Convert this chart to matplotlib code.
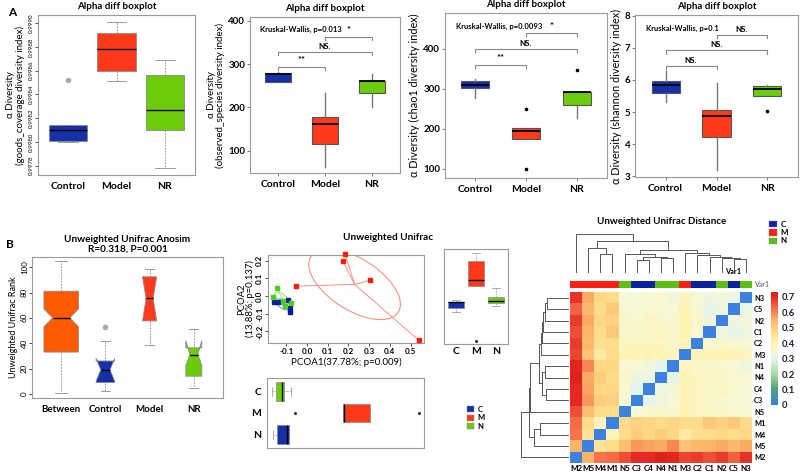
import numpy as np
import matplotlib
matplotlib.use('Agg')
import matplotlib.pyplot as plt
from matplotlib.patches import Ellipse, Rectangle
from matplotlib.colors import LinearSegmentedColormap, ListedColormap

plt.rcParams['font.family'] = ['Lato', 'DejaVu Sans']
plt.rcParams['font.weight'] = 'bold'
plt.rcParams['axes.linewidth'] = 0.8

# ---------------------------------------------------------------- data
groups = ['Control', 'Model', 'NR']

# (whislo, q1, median, q3, whishi)
goods_stats = [(0.99800, 0.99801, 0.99810, 0.99814, 0.99814),
               (0.99851, 0.99860, 0.99878, 0.99892, 0.99901),
               (0.99778, 0.99810, 0.99827, 0.99856, 0.99869)]
goods_fliers = [[0.99852], [], []]
goods_ticks = [0.9978, 0.9980, 0.9982, 0.9984, 0.9986, 0.9988, 0.9990]

observed_stats = [(258, 258, 277, 279, 282),
                  (61, 115, 162, 178, 234),
                  (200, 232, 260, 262, 277)]
observed_fliers = [[], [], []]
chao1_stats = [(277, 301, 309, 318, 325),
               (174, 174, 195, 203, 203),
               (227, 259, 291, 292, 292)]
chao1_fliers = [[], [250, 99], [346]]
shannon_stats = [(5.32, 5.60, 5.83, 5.97, 6.27),
                 (3.21, 4.23, 4.88, 5.06, 5.89),
                 (5.49, 5.49, 5.73, 5.81, 5.84)]
shannon_fliers = [[], [], [5.04]]

pairs = [(1, 2), (1, 3), (2, 3)]
observed_sig = ['**', 'NS.', '*']
chao1_sig = ['**', 'NS.', '*']
shannon_sig = ['NS.', 'NS.', 'NS.']
observed_p = 'Kruskal-Wallis, p=0.013'
chao1_p = 'Kruskal-Wallis, p=0.0093'
shannon_p = 'Kruskal-Wallis, p=0.1'

anosim_groups = ['Between', 'Control', 'Model', 'NR']
anosim_stats = [(1, 33, 60, 81, 104.5),
                (2, 9, 19, 26, 42),
                (38.7, 57.6, 75.3, 92.4, 98.4),
                (5, 14, 31, 36.3, 51.6)]
anosim_notches = [(53, 67), (10, 28), (57.6, 92.4), (22.6, 42)]
anosim_fliers = [[], [52.6], [], []]
anosim_n_width = [0.78, 0.42, 0.32, 0.36]

pc1_C = [-0.161, -0.140, -0.092, -0.085, -0.081]
pc2_C = [-0.032, -0.036, -0.023, -0.069, -0.088]
pc1_M = [0.183, 0.174, 0.306, -0.055, 0.540]
pc2_M = [0.240, 0.196, 0.090, 0.056, -0.250]
pc1_N = [-0.144, -0.165, -0.116, -0.076, -0.105]
pc2_N = [0.043, -0.004, -0.028, -0.038, -0.058]

samples = ['M2', 'M5', 'M4', 'M1', 'N5', 'C3', 'C4', 'N4', 'N1',
           'M3', 'C2', 'C1', 'N2', 'C5', 'N3']
# upper triangle of the distance matrix in the above order
dist_upper = [
    [0.55, 0.62, 0.63, 0.66, 0.70, 0.70, 0.72, 0.71, 0.67, 0.68, 0.66, 0.68, 0.64, 0.69],
    [0.45, 0.47, 0.53, 0.58, 0.57, 0.56, 0.60, 0.52, 0.54, 0.55, 0.56, 0.54, 0.56],
    [0.39, 0.47, 0.50, 0.48, 0.50, 0.48, 0.43, 0.46, 0.47, 0.48, 0.47, 0.48],
    [0.47, 0.49, 0.48, 0.47, 0.48, 0.47, 0.47, 0.51, 0.49, 0.51, 0.47],
    [0.35, 0.36, 0.37, 0.36, 0.40, 0.38, 0.37, 0.37, 0.36, 0.35],
    [0.30, 0.33, 0.35, 0.40, 0.38, 0.37, 0.36, 0.35, 0.35],
    [0.33, 0.34, 0.40, 0.38, 0.37, 0.38, 0.36, 0.35],
    [0.30, 0.40, 0.38, 0.38, 0.37, 0.36, 0.36],
    [0.38, 0.37, 0.37, 0.36, 0.35, 0.33],
    [0.40, 0.40, 0.40, 0.40, 0.38],
    [0.36, 0.37, 0.36, 0.35],
    [0.33, 0.31, 0.33],
    [0.33, 0.34],
    [0.32],
]
# dendrograms: (height, left, right)
col_tree = (112, 'M2',
            (90, (72, 'M5', (52, 'M4', 'M1')),
             (65, (52, 'N5', (45, (35, 'C3', 'C4'), (40, 'N4', 'N1'))),
              (55, 'M3', (50, 'C2', (45, 'C1', (42, 'N2', (38, 'C5', 'N3'))))))))
row_tree = (140,
            (115, (112, (85, (80, (78, (75, (70, (62, 'N3', 'C5'), 'N2'), 'C1'), 'C2'), 'M3'),
                         (78, (70, 'N1', 'N4'), (65, 'C4', 'C3'))), 'N5'),
             (100, (82, 'M1', 'M4'), 'M5')),
            'M2')
legend_groups = ['C', 'M', 'N']

# ---------------------------------------------------------------- style
BLUE, RED, GREEN, ORANGE = '#1530A8', '#FF3A1A', '#6CCC0A', '#FF5A00'
FRAME = '#9A9A9A'
W, H = 800, 472
fig = plt.figure(figsize=(8, 4.72), dpi=100)


def px_axes(l, t, r, b):
    return fig.add_axes([l / W, 1 - b / H, (r - l) / W, (b - t) / H])


def frame(ax, color=FRAME):
    for s in ax.spines.values():
        s.set_color(color)
        s.set_linewidth(0.8)


def make_stats(stats, fliers, notches=None):
    out = []
    for i, (lo, q1, med, q3, hi) in enumerate(stats):
        d = dict(whislo=lo, q1=q1, med=med, q3=q3, whishi=hi, fliers=list(fliers[i]))
        if notches is not None:
            d['cilo'], d['cihi'] = notches[i]
        out.append(d)
    return out


def base_r_box(ax, stats, fliers, colors, widths, notches=None, capwidths=None):
    bp = ax.bxp(make_stats(stats, fliers, notches), positions=range(1, len(stats) + 1),
                widths=widths, capwidths=capwidths, patch_artist=True,
                shownotches=notches is not None,
                boxprops=dict(edgecolor='#8a8a8a', linewidth=0.6),
                whiskerprops=dict(color='#8a8a8a', linestyle=(0, (2, 1.5)), linewidth=0.6),
                capprops=dict(color='#8a8a8a', linewidth=0.6),
                medianprops=dict(color='black', linewidth=1.0),
                flierprops=dict(marker='o', markersize=3, markerfacecolor='#AAAAAA',
                                markeredgecolor='#AAAAAA'))
    for p, c in zip(bp['boxes'], colors):
        p.set_facecolor(c)


def gg_box(ax, stats, fliers):
    bp = ax.bxp(make_stats(stats, fliers), positions=[1, 2, 3], widths=0.55,
                patch_artist=True, showcaps=False,
                boxprops=dict(edgecolor='#555555', linewidth=0.8),
                whiskerprops=dict(color='#777777', linewidth=1.0),
                medianprops=dict(color='black', linewidth=1.3),
                flierprops=dict(marker='o', markersize=1.6, markerfacecolor='black',
                                markeredgecolor='black'))
    for p, c in zip(bp['boxes'], [BLUE, RED, GREEN]):
        p.set_facecolor(c)


# ---------------------------------------------------------------- Panel A
ax1 = px_axes(38, 15, 195, 175)
base_r_box(ax1, goods_stats, goods_fliers, [BLUE, RED, GREEN], widths=0.8)
ax1.set_xlim(0.38, 3.62)
ax1.set_ylim(0.99772, 0.99907)
ax1.set_yticks(goods_ticks, [f'{v:.4f}' for v in goods_ticks], rotation=90,
               fontsize=4.5, va='center', fontweight='normal')
ax1.set_xticks([1, 2, 3], groups, fontsize=7.5)
ax1.tick_params(axis='y', length=2, pad=1, width=0.5)
ax1.tick_params(axis='x', length=0, pad=5)
ax1.set_title('Alpha diff boxplot', fontsize=7, fontweight='bold', pad=4)
ax1.set_ylabel('α Diversity\n(goods_coverage diversity index)', fontsize=7,
               labelpad=3, linespacing=1.0)
frame(ax1)

gg_specs = [
    ((250, 17, 400, 173), observed_stats, observed_fliers, (48, 409), [100, 200, 300, 400],
     'α Diversity\n(observed_species diversity index)', observed_p, observed_sig, 282),
    ((445, 13, 607, 178), chao1_stats, chao1_fliers, (77, 489), [100, 200, 300, 400],
     'α Diversity (chao1 diversity index)', chao1_p, chao1_sig, 346),
    ((635, 15, 798, 177), shannon_stats, shannon_fliers, (2.98, 8.02), [3, 4, 5, 6, 7, 8],
     'α Diversity (shannon diversity index)', shannon_p, shannon_sig, 6.27),
]
for box, st, fl, ylim, yt, ylab, ptxt, sig, top in gg_specs:
    ax = px_axes(*box)
    gg_box(ax, st, fl)
    ax.set_xlim(0.4, 3.6)
    ax.set_ylim(*ylim)
    ax.set_yticks(yt, [str(v) for v in yt], fontsize=7)
    ax.set_xticks([1, 2, 3], groups, fontsize=7.5)
    ax.tick_params(axis='y', length=2, pad=1.5, width=0.6, color='#666')
    ax.tick_params(axis='x', length=2, pad=3, width=0.6, color='#666')
    ax.set_title('Alpha diff boxplot', fontsize=7, fontweight='bold', pad=4)
    nlines = ylab.count('\n') + 1
    ax.set_ylabel(ylab, fontsize=7 if nlines > 1 else 7.8, labelpad=2, linespacing=1.0)
    frame(ax)
    span = ylim[1] - ylim[0]
    for k, ((a, b), lab) in enumerate(zip(pairs, sig)):
        y = top + 0.033 * span + k * 0.096 * span
        ax.plot([a, a, b, b], [y - 0.02 * span, y, y, y - 0.02 * span],
                color='#888888', lw=0.8)
        ax.text((a + b) / 2, y + 0.012 * span, lab, ha='center', va='bottom',
                fontsize=5.8 if lab == 'NS.' else 6.8)
    ax.text(0.07, 0.92, ptxt, transform=ax.transAxes, fontsize=5.5, va='center')

fig.text(8 / W, 1 - 13 / H, 'A', fontsize=8.5, fontweight='bold', va='center')
fig.text(6 / W, 1 - 245 / H, 'B', fontsize=8.5, fontweight='bold', va='center')

# ---------------------------------------------------------------- Panel B: anosim
axb = px_axes(32, 257, 223, 398)
base_r_box(axb, anosim_stats, anosim_fliers, [ORANGE, BLUE, RED, GREEN],
           widths=anosim_n_width, notches=anosim_notches,
           capwidths=[0.26, 0.2, 0.2, 0.2])
axb.set_xlim(0.34, 4.66)
axb.set_ylim(-3.2, 108)
axb.set_yticks([0, 20, 40, 60, 80, 100], ['0', '20', '40', '60', '80', '100'],
               rotation=90, va='center', fontsize=5.8, fontweight='normal')
axb.set_xticks([1, 2, 3, 4], anosim_groups, fontsize=7)
axb.tick_params(axis='y', length=2, pad=1, width=0.5)
axb.tick_params(axis='x', length=0, pad=5)
axb.set_title('Unweighted Unifrac Anosim\nR=0.318, P=0.001', fontsize=7.2,
              fontweight='bold', pad=4, linespacing=1.1)
axb.set_ylabel('Unweighted Unifrac Rank', fontsize=6.5, labelpad=2)
frame(axb)

# ---------------------------------------------------------------- PCoA
axs = px_axes(268, 255, 424, 343)
pcoa = [(pc1_C, pc2_C, '#0A1E9C', '#7F98D8'),
        (pc1_N, pc2_N, '#4CD020', '#9BE680'),
        (pc1_M, pc2_M, '#FF1A00', '#F39282')]
for xs, ys, pc, lc in pcoa:
    xs = np.asarray(xs)
    ys = np.asarray(ys)
    cx, cy = xs.mean(), ys.mean()
    cov = np.cov(xs, ys)
    vals, vecs = np.linalg.eigh(cov)
    order = vals.argsort()[::-1]
    vals, vecs = vals[order], vecs[:, order]
    ang = np.degrees(np.arctan2(vecs[1, 0], vecs[0, 0]))
    axs.add_patch(Ellipse((cx, cy), 2 * np.sqrt(vals[0]), 2.3 * np.sqrt(vals[1]),
                          angle=ang, fill=False, ec=lc, lw=0.8))
    for x, y in zip(xs, ys):
        axs.plot([cx, x], [cy, y], color=lc, lw=0.7)
    axs.plot(xs, ys, 's', ms=2.3, color=pc, clip_on=False, zorder=5)
axs.set_xlim(-0.189, 0.565)
axs.set_ylim(-0.265, 0.232)
xt = [-0.1, 0.0, 0.1, 0.2, 0.3, 0.4, 0.5]
axs.set_xticks(xt, [f'{v:.1f}' for v in xt], fontsize=5.8)
yt = [-0.2, -0.1, 0.0, 0.1, 0.2]
axs.set_yticks(yt, [f'{v:.1f}' for v in yt], fontsize=5.8, rotation=90, va='center')
axs.tick_params(length=2, pad=1.5, width=0.5)
axs.set_xlabel('PCOA1(37.78%; p=0.009)', fontsize=7, labelpad=2)
axs.set_ylabel('PCOA2\n(13.88%; p=0.137)', fontsize=6.8, labelpad=1, linespacing=0.9)
frame(axs)
fig.text(388 / W, 1 - 238 / H, 'Unweighted Unifrac', fontsize=7.2, fontweight='bold',
         ha='center', va='center')

box_kw = dict(patch_artist=True,
              boxprops=dict(edgecolor='#8a8a8a', linewidth=0.5),
              whiskerprops=dict(color='#8a8a8a', linestyle=(0, (2, 1.5)), linewidth=0.5),
              capprops=dict(color='#8a8a8a', linewidth=0.5),
              medianprops=dict(color='black', linewidth=1.0),
              flierprops=dict(marker='o', markersize=1.2, markerfacecolor='#333',
                              markeredgecolor='#333'))

axv = px_axes(444, 249, 508, 344)
bp = axv.boxplot([pc2_C, pc2_M, pc2_N], positions=[1, 2, 3], widths=0.8, **box_kw)
for p, c in zip(bp['boxes'], [BLUE, RED, GREEN]):
    p.set_facecolor(c)
axv.set_xlim(0.38, 3.62)
axv.set_ylim(-0.268, 0.261)
axv.set_yticks([])
axv.set_xticks([1, 2, 3], ['C', 'M', 'N'], fontsize=7.5)
axv.tick_params(axis='x', length=0, pad=2)
frame(axv)

axh = px_axes(267, 378, 424, 448)
bp = axh.boxplot([pc1_C, pc1_M, pc1_N], positions=[1, 2, 3], widths=0.85,
                 orientation='horizontal', **box_kw)
for p, c in zip(bp['boxes'], [BLUE, RED, GREEN]):
    p.set_facecolor(c)
axh.set_xlim(-0.189, 0.565)
axh.set_ylim(0.38, 3.62)
axh.set_xticks([])
axh.set_yticks([1, 2, 3], ['N', 'M', 'C'], fontsize=7.5)
axh.tick_params(axis='y', length=0, pad=4)
frame(axh)

leg_handles = [Rectangle((0, 0), 1, 1, fc=c, ec='#888', lw=0.3) for c in [BLUE, RED, GREEN]]
fig.legend(leg_handles, legend_groups, loc='upper left',
           bbox_to_anchor=(463 / W, 1 - 402 / H), frameon=False, fontsize=5.5,
           handlelength=1.0, handleheight=0.8, handletextpad=0.4, labelspacing=0.2,
           borderpad=0)

# ---------------------------------------------------------------- heatmap
n = len(samples)
D = np.zeros((n, n))
for i, row in enumerate(dist_upper):
    for k, v in enumerate(row):
        j = i + 1 + k
        D[i, j] = D[j, i] = v

VMAX = 0.73
cmap = LinearSegmentedColormap.from_list('ud', [
    (0.0, '#3C80E0'), (0.10 / VMAX, '#4FA07A'), (0.20 / VMAX, '#A9DBA2'),
    (0.30 / VMAX, '#E4F4EE'), (0.35 / VMAX, '#F6F8D6'), (0.40 / VMAX, '#FFF3B6'),
    (0.47 / VMAX, '#FEDC8A'), (0.55 / VMAX, '#FCB468'), (0.62 / VMAX, '#F7744A'),
    (0.70 / VMAX, '#E52A22'), (1.0, '#DD1A1A')])

hm = px_axes(570, 292, 752, 463)
mesh = hm.pcolormesh(D, cmap=cmap, vmin=0, vmax=VMAX)
hm.set_xlim(0, n)
hm.set_ylim(0, n)
hm.set_xticks(np.arange(n) + 0.5, samples, fontsize=5.8)
hm.yaxis.tick_right()
hm.set_yticks(np.arange(n) + 0.5, samples, fontsize=5.3)
hm.tick_params(length=0, pad=1.5)
for s in hm.spines.values():
    s.set_visible(False)

grp_index = {'C': 0, 'M': 1, 'N': 2}
ann = px_axes(570, 281, 752, 288)
ann.pcolormesh(np.array([[grp_index[s[0]] for s in samples]]),
               cmap=ListedColormap(['#0A23A0', '#FF2010', '#5CC010']), vmin=-0.5, vmax=2.5)
ann.set_xlim(0, n)
ann.set_xticks([])
ann.set_yticks([])
for s in ann.spines.values():
    s.set_visible(False)
fig.text(755 / W, 1 - 284.5 / H, 'Var1', fontsize=5, fontweight='normal', color='#555',
         va='center')
fig.text(733 / W, 1 - 271 / H, 'Var1', fontsize=5.3, fontweight='bold', va='center',
         ha='center')


def draw_tree(ax, tree, orient, nleaf):
    counter = [0]

    def walk(node):
        if isinstance(node, str):
            idx = counter[0]
            counter[0] += 1
            return idx + 0.5, 0.0
        h, left, right = node
        p1, h1 = walk(left)
        p2, h2 = walk(right)
        if orient == 'top':
            ax.plot([p1, p1, p2, p2], [h1, h, h, h2], color='#555', lw=0.7, clip_on=False)
        else:
            ax.plot([h1, h, h, h2], [nleaf - p1, nleaf - p1, nleaf - p2, nleaf - p2],
                    color='#555', lw=0.7, clip_on=False)
        return (p1 + p2) / 2, h

    walk(tree)
    ax.set_axis_off()


dt = px_axes(570, 234, 752, 272)
draw_tree(dt, col_tree, 'top', n)
dt.set_xlim(0, n)
dt.set_ylim(0, col_tree[0])

dl = px_axes(521, 292, 568, 463)
draw_tree(dl, row_tree, 'left', n)
dl.set_ylim(0, n)
dl.set_xlim(row_tree[0], 0)

cax = px_axes(771, 292, 778, 405)
cb = fig.colorbar(mesh, cax=cax, ticks=[0, 0.1, 0.2, 0.3, 0.4, 0.5, 0.6, 0.7])
cb.outline.set_visible(False)
cb.ax.set_yticklabels(['0', '0.1', '0.2', '0.3', '0.4', '0.5', '0.6', '0.7'],
                      fontsize=6.8, color='#1a1a40')
cb.ax.tick_params(length=0, pad=3)

fig.text(662 / W, 1 - 221 / H, 'Unweighted Unifrac Distance', fontsize=7,
         fontweight='bold', ha='center', va='center')
hm_handles = [Rectangle((0, 0), 1, 1, fc=c, ec='#888', lw=0.3)
              for c in ['#0A23A0', '#FF2010', '#5CC010']]
fig.legend(hm_handles, legend_groups, loc='upper left',
           bbox_to_anchor=(765 / W, 1 - 217 / H), frameon=False, fontsize=5.8,
           handlelength=1.0, handleheight=0.8, handletextpad=0.4, labelspacing=0.15,
           borderpad=0)

fig.savefig('out.png', dpi=100)
